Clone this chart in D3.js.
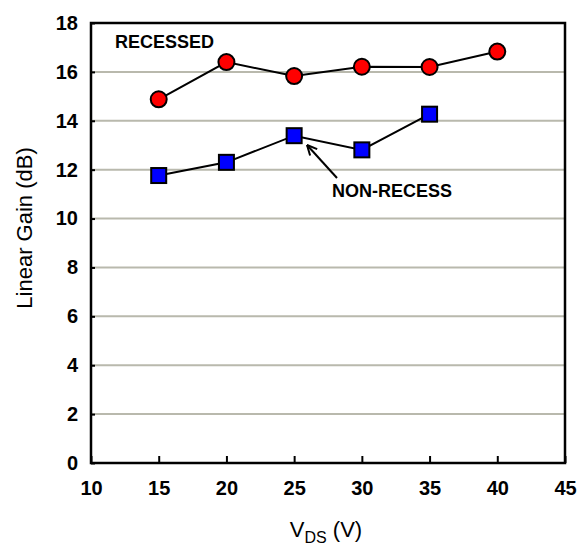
<!DOCTYPE html>
<html>
<head>
<meta charset="utf-8">
<script src="https://cdn.jsdelivr.net/npm/d3@7"></script>
<style>
  body { margin: 0; background: #fff; }
  text { font-family: Arial, "Liberation Sans", sans-serif; }
</style>
</head>
<body>
<div id="chart"></div>
<script>
const vds = [15, 20, 25, 30, 35, 40];
const recessed = [14.88, 16.4, 15.83, 16.21, 16.2, 16.83];
const nonRecessVds = [15, 20, 25, 30, 35];
const nonRecess = [11.76, 12.3, 13.39, 12.81, 14.27];
const xTicks = [10, 15, 20, 25, 30, 35, 40, 45];
const yTicks = [0, 2, 4, 6, 8, 10, 12, 14, 16, 18];

const width = 579;
const height = 546;
const margin = { top: 23, right: 14, bottom: 83, left: 91 };
const w = width - margin.left - margin.right;
const h = height - margin.top - margin.bottom;

const svg = d3.select('#chart')
  .append('svg')
  .attr('width', width)
  .attr('height', height);

const g = svg.append('g')
  .attr('transform', `translate(${margin.left},${margin.top})`);

const x = d3.scaleLinear().domain([10, 45]).range([0, w]);
const y = d3.scaleLinear().domain([0, 18]).range([h, 0]);

// gridlines
g.append('g')
  .selectAll('line')
  .data(yTicks.filter(d => d > 0 && d < 18))
  .enter()
  .append('line')
  .attr('x1', 0)
  .attr('x2', w)
  .attr('y1', d => y(d))
  .attr('y2', d => y(d))
  .attr('stroke', '#b9b9ad')
  .attr('stroke-width', 2);

// axes (ticks pointing inward)
const xAxis = g.append('g')
  .attr('transform', `translate(0,${h})`)
  .call(d3.axisBottom(x).tickValues(xTicks).tickSize(-7).tickPadding(0));

const yAxis = g.append('g')
  .call(d3.axisLeft(y).tickValues(yTicks).tickSize(-4).tickPadding(13));

[xAxis, yAxis].forEach(ax => {
  ax.select('.domain').remove();
  ax.selectAll('line').attr('stroke', '#000').attr('stroke-width', 2);
  ax.selectAll('text')
    .attr('font-size', 20)
    .attr('font-weight', 'bold')
    .attr('fill', '#000');
});
xAxis.selectAll('text').attr('dy', null).attr('y', 32);

// frame
g.append('rect')
  .attr('width', w)
  .attr('height', h)
  .attr('fill', 'none')
  .attr('stroke', '#000')
  .attr('stroke-width', 2.5);

const line = d3.line()
  .x(d => x(d[0]))
  .y(d => y(d[1]));

const recData = vds.map((v, i) => [v, recessed[i]]);
const nonData = nonRecessVds.map((v, i) => [v, nonRecess[i]]);

g.append('path')
  .datum(recData)
  .attr('d', line)
  .attr('fill', 'none')
  .attr('stroke', '#000')
  .attr('stroke-width', 2);

g.append('path')
  .datum(nonData)
  .attr('d', line)
  .attr('fill', 'none')
  .attr('stroke', '#000')
  .attr('stroke-width', 2);

g.selectAll('.rec')
  .data(recData)
  .enter()
  .append('circle')
  .attr('class', 'rec')
  .attr('cx', d => x(d[0]))
  .attr('cy', d => y(d[1]))
  .attr('r', 8)
  .attr('fill', '#ff0000')
  .attr('stroke', '#000')
  .attr('stroke-width', 2);

const sq = 15;
g.selectAll('.non')
  .data(nonData)
  .enter()
  .append('rect')
  .attr('class', 'non')
  .attr('x', d => x(d[0]) - sq / 2)
  .attr('y', d => y(d[1]) - sq / 2)
  .attr('width', sq)
  .attr('height', sq)
  .attr('fill', '#0000ff')
  .attr('stroke', '#000')
  .attr('stroke-width', 2);

// annotations
g.append('text')
  .attr('x', 24)
  .attr('y', 25)
  .attr('font-size', 18)
  .attr('font-weight', 'bold')
  .text('RECESSED');

g.append('text')
  .attr('x', 241)
  .attr('y', 174)
  .attr('font-size', 18)
  .attr('font-weight', 'bold')
  .text('NON-RECESS');

// arrow
const ax0 = 246, ay0 = 155;
const ax1 = 216, ay1 = 122;
g.append('line')
  .attr('x1', ax0).attr('y1', ay0)
  .attr('x2', ax1).attr('y2', ay1)
  .attr('stroke', '#000')
  .attr('stroke-width', 2);
const ang = Math.atan2(ay1 - ay0, ax1 - ax0);
const hl = 11;
[0.45, -0.45].forEach(da => {
  g.append('line')
    .attr('x1', ax1).attr('y1', ay1)
    .attr('x2', ax1 - hl * Math.cos(ang + da))
    .attr('y2', ay1 - hl * Math.sin(ang + da))
    .attr('stroke', '#000')
    .attr('stroke-width', 2);
});

// axis titles
svg.append('text')
  .attr('transform', 'translate(32,228) rotate(-90)')
  .attr('text-anchor', 'middle')
  .attr('font-size', 22)
  .text('Linear Gain (dB)');

const xt = svg.append('text')
  .attr('x', 326)
  .attr('y', 537)
  .attr('text-anchor', 'middle')
  .attr('font-size', 22);
xt.append('tspan').text('V');
xt.append('tspan').attr('font-size', 16).attr('dy', 6).text('DS');
xt.append('tspan').attr('dy', -6).text(' (V)');
</script>
</body>
</html>
